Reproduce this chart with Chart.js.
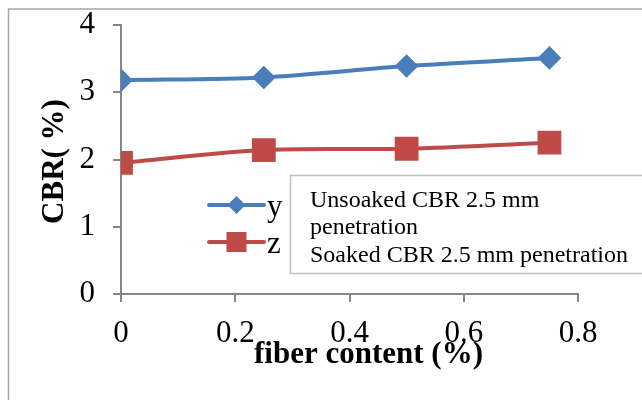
<!DOCTYPE html>
<html><head><meta charset="utf-8">
<script src="https://cdn.jsdelivr.net/npm/chart.js@4/dist/chart.umd.min.js"></script>
<style>html,body{margin:0;padding:0;background:#fff}#wrap{width:642px;height:400px;position:relative}</style>
</head><body><div id="wrap"><canvas id="c" width="642" height="400"></canvas></div>
<script>
const fiberContent = [0, 0.25, 0.5, 0.75];
const unsoakedCBR = [3.18, 3.22, 3.39, 3.51];
const soakedCBR = [1.95, 2.14, 2.16, 2.25];
const xTickLabels = ['0', '0.2', '0.4', '0.6', '0.8'];
const yTickLabels = ['0', '1', '2', '3', '4'];
const seriesNames = ['y', 'z'];
const boxLines = ['Unsoaked CBR 2.5 mm', 'penetration', 'Soaked CBR 2.5 mm penetration'];
const xTitle = 'fiber content (%)';
const yTitle = 'CBR( %)';

const BLUE = '#4a7ebb', RED = '#be4b48', AXIS = '#868686';
const SERIF = '"Liberation Serif", "Times New Roman", serif';

function toPts(xs, ys) { return xs.map((x, i) => ({ x: x, y: ys[i] })); }

const decor = {
  id: 'decor',
  beforeDraw(chart) {
    const ctx = chart.ctx;
    ctx.save();
    ctx.fillStyle = '#fff';
    ctx.fillRect(0, 0, chart.width, chart.height);
    ctx.strokeStyle = '#a6a6a6';
    ctx.lineWidth = 1.5;
    ctx.strokeRect(8.5, 9, 700, 500);
    ctx.restore();
  },
  afterDraw(chart) {
    const ctx = chart.ctx;
    ctx.save();
    // text box
    ctx.fillStyle = '#fff';
    ctx.fillRect(290, 175, 400, 98);
    ctx.strokeStyle = '#bfbfbf';
    ctx.lineWidth = 1.5;
    ctx.strokeRect(290.5, 175.5, 400, 98);
    ctx.fillStyle = '#000';
    ctx.font = '24px ' + SERIF;
    ctx.textBaseline = 'alphabetic';
    ctx.textAlign = 'left';
    ctx.fillText(boxLines[0], 310, 207);
    ctx.fillText(boxLines[1], 310, 234);
    ctx.fillText(boxLines[2], 310, 262);
    // legend
    const items = [
      { name: seriesNames[0], color: BLUE, y: 205, style: 'diamond' },
      { name: seriesNames[1], color: RED, y: 242, style: 'square' }
    ];
    items.forEach(it => {
      ctx.strokeStyle = it.color;
      ctx.lineWidth = 4;
      ctx.lineCap = 'round';
      ctx.beginPath(); ctx.moveTo(209, it.y); ctx.lineTo(264, it.y); ctx.stroke();
      ctx.fillStyle = it.color;
      const cx = 236.5;
      ctx.beginPath();
      if (it.style === 'diamond') {
        ctx.moveTo(cx, it.y - 9); ctx.lineTo(cx + 9, it.y); ctx.lineTo(cx, it.y + 9); ctx.lineTo(cx - 9, it.y);
        ctx.closePath(); ctx.fill();
      } else {
        ctx.fillRect(cx - 10, it.y - 10, 20, 20);
      }
      ctx.fillStyle = '#000';
      ctx.font = '31px ' + SERIF;
      ctx.fillText(it.name, 267, it.y + 11);
    });
    // axis titles
    ctx.font = 'bold 31px ' + SERIF;
    ctx.textAlign = 'center';
    ctx.fillText(xTitle, 368.5, 363);
    ctx.translate(63, 161.5);
    ctx.rotate(-Math.PI / 2);
    ctx.fillText(yTitle, 0, 0);
    ctx.restore();
  }
};

new Chart(document.getElementById('c'), {
  type: 'line',
  data: {
    datasets: [
      { label: seriesNames[0], data: toPts(fiberContent, unsoakedCBR), borderColor: BLUE, backgroundColor: BLUE,
        borderWidth: 4, pointStyle: 'rectRot', pointRadius: 9, pointHoverRadius: 9, tension: 0.3 },
      { label: seriesNames[1], data: toPts(fiberContent, soakedCBR), borderColor: RED, backgroundColor: RED,
        borderWidth: 4, pointStyle: 'rect', pointRadius: 14, pointHoverRadius: 14, tension: 0.3 }
    ]
  },
  options: {
    responsive: false, animation: false, devicePixelRatio: 1,
    layout: { padding: { left: 0, top: 25, right: 64, bottom: 0 } },
    plugins: { legend: { display: false }, tooltip: { enabled: false } },
    scales: {
      x: {
        type: 'linear', min: 0, max: 0.8,
        afterFit(s) { s.height = 106; s.paddingLeft = 0; s.paddingRight = 0; s.paddingTop = 0; s.paddingBottom = 0; },
        afterBuildTicks(s) { s.ticks = xTickLabels.map(v => ({ value: parseFloat(v) })); },
        ticks: { callback: (v, i) => xTickLabels[i], color: '#000', font: { family: SERIF, size: 31 }, padding: 13, maxRotation: 0, autoSkip: false },
        grid: { drawOnChartArea: false, color: AXIS, lineWidth: 2, tickLength: 8 },
        border: { color: AXIS, width: 2 }
      },
      y: {
        min: 0, max: 4,
        afterFit(s) { s.width = 121; s.paddingLeft = 0; s.paddingRight = 0; s.paddingTop = 0; s.paddingBottom = 0; },
        afterBuildTicks(s) { s.ticks = yTickLabels.map(v => ({ value: parseFloat(v) })); },
        ticks: { callback: (v, i) => yTickLabels[i], color: '#000', font: { family: SERIF, size: 31 }, padding: 18 },
        grid: { drawOnChartArea: false, color: AXIS, lineWidth: 2, tickLength: 8 },
        border: { color: AXIS, width: 2 }
      }
    }
  },
  plugins: [decor]
});
</script></body></html>
